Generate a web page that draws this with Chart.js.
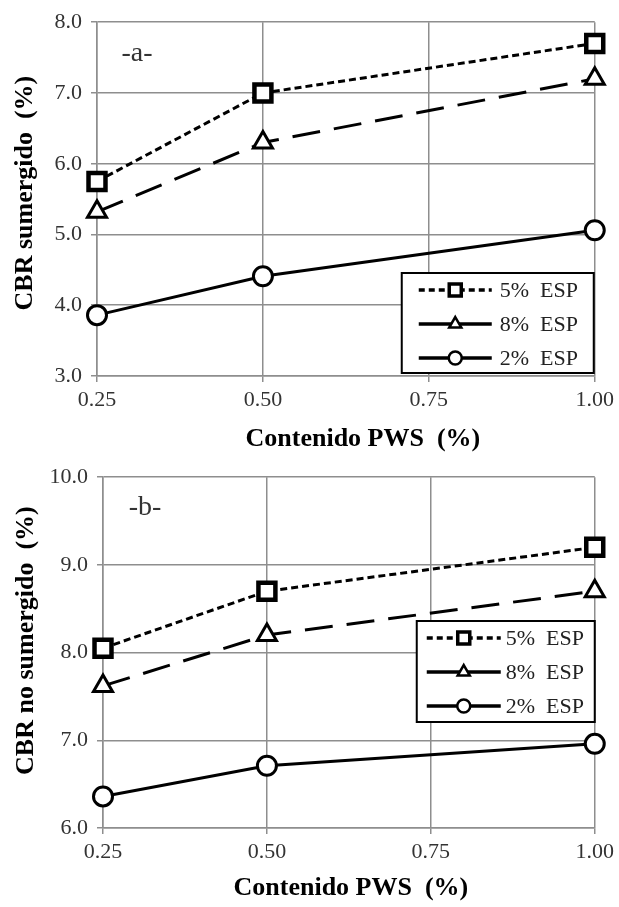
<!DOCTYPE html>
<html>
<head>
<meta charset="utf-8">
<script src="https://cdn.jsdelivr.net/npm/chart.js@4.4.1/dist/chart.umd.min.js"></script>
<style>
  html, body { margin: 0; padding: 0; background: #ffffff; }
  body { width: 619px; height: 907px; position: relative; overflow: hidden; }
  .panel { position: absolute; left: 0; width: 619px; }
  #panelA { top: 0; height: 455px; }
  #panelB { top: 455px; height: 452px; }
</style>
</head>
<body>
<div class="panel" id="panelA"><canvas id="chartA"></canvas></div>
<div class="panel" id="panelB"><canvas id="chartB"></canvas></div>
<script>
// PWS content (%) on the x axis
const pwsContent = [0.25, 0.50, 1.00];
const seriesLabels = ['5%  ESP', '8%  ESP', '2%  ESP'];

// CBR sumergido (%)
const cbrSubEsp5 = [5.75, 7.00, 7.70];
const cbrSubEsp8 = [5.32, 6.30, 7.20];
const cbrSubEsp2 = [3.86, 4.41, 5.06];

// CBR no sumergido (%)
const cbrDryEsp5 = [8.05, 8.70, 9.20];
const cbrDryEsp8 = [7.62, 8.20, 8.70];
const cbrDryEsp2 = [6.36, 6.71, 6.96];

const xTickValues = [0.25, 0.50, 0.75, 1.00];

const SERIF = "'Liberation Serif', 'Times New Roman', serif";
const GRID = '#8e8e8e';

function points(values) {
  return pwsContent.map((x, i) => ({ x: x, y: values[i] }));
}

function makeDatasets(v5, v8, v2) {
  return [
    {
      label: seriesLabels[0], data: points(v5), clip: false,
      borderColor: '#000', borderWidth: 3, borderDash: [7, 4],
      pointStyle: 'rect', pointRadius: 12, pointBorderWidth: 4.5,
      pointBackgroundColor: '#fff', pointBorderColor: '#000',
      legendDash: [6, 4]
    },
    {
      label: seriesLabels[1], data: points(v8), clip: false,
      borderColor: '#000', borderWidth: 3, borderDash: [28, 14],
      pointStyle: 'triangle', pointRadius: 11, pointBorderWidth: 3,
      pointBackgroundColor: '#fff', pointBorderColor: '#000',
      legendDash: []
    },
    {
      label: seriesLabels[2], data: points(v2), clip: false,
      borderColor: '#000', borderWidth: 3, borderDash: [],
      pointStyle: 'circle', pointRadius: 9.5, pointBorderWidth: 3,
      pointBackgroundColor: '#fff', pointBorderColor: '#000',
      legendDash: []
    }
  ];
}

// Boxed legend with line samples, drawn inside the plot area
const boxLegend = {
  id: 'boxLegend',
  afterDatasetsDraw(chart, args, opts) {
    const ctx = chart.ctx;
    const ca = chart.chartArea;
    const x0 = ca.right - opts.rightInset - opts.width;
    const y0 = opts.top;
    ctx.save();
    ctx.fillStyle = '#fff';
    ctx.fillRect(x0, y0, opts.width, opts.height);
    ctx.strokeStyle = '#000';
    ctx.lineWidth = 2;
    ctx.strokeRect(x0, y0, opts.width, opts.height);
    chart.data.datasets.forEach((ds, i) => {
      const y = y0 + opts.firstRow + i * opts.rowGap;
      const lx0 = x0 + opts.lineStart;
      const lx1 = lx0 + opts.lineLen;
      const mx = (lx0 + lx1) / 2;
      ctx.setLineDash(ds.legendDash);
      ctx.lineWidth = 3.5;
      ctx.strokeStyle = '#000';
      ctx.beginPath();
      ctx.moveTo(lx0, y);
      ctx.lineTo(lx1, y);
      ctx.stroke();
      ctx.setLineDash([]);
      ctx.fillStyle = '#fff';
      ctx.lineWidth = ds.pointStyle === 'rect' ? 3.5 : 2.5;
      Chart.helpers.drawPoint(ctx, {
        pointStyle: ds.pointStyle,
        radius: opts.markers[ds.pointStyle],
        borderWidth: ctx.lineWidth,
        rotation: 0
      }, mx, y);
      ctx.fillStyle = '#222';
      ctx.font = '22px ' + SERIF;
      ctx.textBaseline = 'middle';
      ctx.textAlign = 'left';
      ctx.fillText(ds.label, x0 + opts.textStart, y + 1);
    });
    ctx.restore();
  }
};

// Panel tag such as "-a-"
const panelTag = {
  id: 'panelTag',
  afterDraw(chart, args, opts) {
    const ctx = chart.ctx;
    ctx.save();
    ctx.fillStyle = '#333';
    ctx.font = '28px ' + SERIF;
    ctx.textAlign = 'center';
    ctx.textBaseline = 'middle';
    ctx.fillText(opts.text, opts.x, opts.y);
    ctx.restore();
  }
};

// Nudges the axis titles off the centre of their scale
const titleNudge = {
  id: 'titleNudge',
  afterLayout(chart, args, opts) {
    [['x', opts.dx, 0], ['y', 0, opts.dy]].forEach(([id, dx, dy]) => {
      const s = chart.scales[id];
      if (!s || s._nudged) return;
      const draw = s.drawTitle.bind(s);
      s.drawTitle = function () {
        chart.ctx.save();
        chart.ctx.translate(dx, dy);
        draw();
        chart.ctx.restore();
      };
      s._nudged = true;
    });
  }
};

function buildChart(id, cfg) {
  return new Chart(document.getElementById(id), {
    type: 'line',
    data: { datasets: cfg.datasets },
    plugins: [boxLegend, panelTag, titleNudge],
    options: {
      responsive: true,
      maintainAspectRatio: false,
      animation: false,
      layout: { autoPadding: false, padding: { left: 0, right: cfg.padRight, top: cfg.padTop, bottom: 0 } },
      plugins: {
        legend: { display: false },
        tooltip: { enabled: false },
        boxLegend: cfg.legend,
        panelTag: cfg.tag,
        titleNudge: cfg.nudge
      },
      scales: {
        x: {
          type: 'linear', min: 0.25, max: 1.0,
          afterBuildTicks: (s) => { s.ticks = xTickValues.map(v => ({ value: v })); },
          afterFit: (s) => { s.height = cfg.xHeight; },
          grid: { color: GRID, lineWidth: 1.5, tickLength: 6, drawTicks: true },
          border: { color: GRID, width: 1.5 },
          ticks: {
            color: '#333', padding: 5,
            font: { family: SERIF, size: 22 },
            callback: (v) => Number(v).toFixed(2)
          },
          title: {
            display: true, text: 'Contenido PWS  (%)', color: '#000',
            font: { family: SERIF, size: 26, weight: 'bold' },
            padding: { top: 0, bottom: cfg.xTitlePad }
          }
        },
        y: {
          min: cfg.yMin, max: cfg.yMax,
          ticks: {
            stepSize: 1, color: '#333', padding: 9,
            font: { family: SERIF, size: 22 },
            callback: (v) => Number(v).toFixed(1)
          },
          afterFit: (s) => { s.width = cfg.yWidth; },
          grid: { color: GRID, lineWidth: 1.5, tickLength: 6 },
          border: { color: GRID, width: 1.5 },
          title: {
            display: true, text: cfg.yTitle, color: '#000',
            font: { family: SERIF, size: 26, weight: 'bold' },
            padding: { top: cfg.yTitlePad, bottom: 0 }
          }
        }
      }
    }
  });
}

buildChart('chartA', {
  datasets: makeDatasets(cbrSubEsp5, cbrSubEsp8, cbrSubEsp2),
  yMin: 3, yMax: 8, yTitle: 'CBR sumergido  (%)', yTitlePad: 10,
  yWidth: 97, xHeight: 79, padTop: 21, padRight: 23, xTitlePad: 0,
  legend: { width: 192, height: 100, rightInset: 1, top: 273, firstRow: 17, rowGap: 34,
            lineStart: 17, lineLen: 73, textStart: 98, markers: { rect: 8.5, triangle: 7, circle: 6.5 } },
  tag: { text: '-a-', x: 137, y: 54 },
  nudge: { dx: 17, dy: -6 }
});

buildChart('chartB', {
  datasets: makeDatasets(cbrDryEsp5, cbrDryEsp8, cbrDryEsp2),
  yMin: 6, yMax: 10, yTitle: 'CBR no sumergido  (%)', yTitlePad: 11,
  yWidth: 103, xHeight: 79, padTop: 20, padRight: 19, xTitlePad: 3,
  legend: { width: 178, height: 101, rightInset: 0, top: 166, firstRow: 17, rowGap: 34,
            lineStart: 10, lineLen: 74, textStart: 89, markers: { rect: 8.5, triangle: 7, circle: 6.5 } },
  tag: { text: '-b-', x: 145, y: 53 },
  nudge: { dx: 2, dy: -12 }
});
</script>
</body>
</html>
